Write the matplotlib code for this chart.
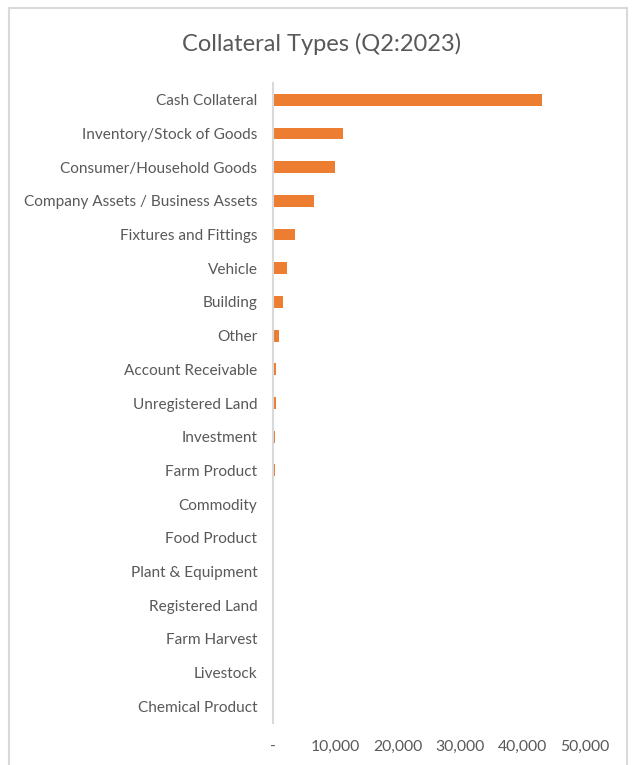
import matplotlib.pyplot as plt
from matplotlib.patches import Rectangle
from matplotlib.ticker import FuncFormatter

# collateral counts, Q2 2023
categories = [
    "Cash Collateral", "Inventory/Stock of Goods", "Consumer/Household Goods",
    "Company Assets / Business Assets", "Fixtures and Fittings", "Vehicle",
    "Building", "Other", "Account Receivable", "Unregistered Land",
    "Investment", "Farm Product", "Commodity", "Food Product",
    "Plant & Equipment", "Registered Land", "Farm Harvest", "Livestock",
    "Chemical Product",
]
values = [43150, 11270, 10030, 6670, 3620, 2340, 1600, 1010, 580, 570,
          320, 300, 40, 30, 20, 15, 10, 5, 3]
xticks = [0, 10000, 20000, 30000, 40000, 50000]

orange = "#ED7D31"
text_grey = "#595959"
line_grey = "#D9D9D9"

plt.rcParams['font.family'] = ['Lato', 'DejaVu Sans']

fig = plt.figure(figsize=(6.35, 7.65), dpi=100)
ax = fig.add_axes([0.4295, 0.0549, 0.4913, 0.8366])

pos = list(range(len(categories)))
ax.barh(pos, values, height=0.35, color=orange)
ax.set_ylim(len(categories) - 0.5, -0.5)
ax.set_xlim(0, 50000)

ax.set_yticks(pos)
ax.set_yticklabels(categories, fontsize=11.1, color=text_grey)
ax.set_xticks(xticks)
ax.xaxis.set_major_formatter(FuncFormatter(lambda v, p: "-" if v == 0 else f"{v:,.0f}"))
ax.tick_params(axis='x', labelsize=11.3, labelcolor=text_grey, length=0, pad=12)
ax.tick_params(axis='y', length=0, pad=11)

for s in ["top", "right", "bottom"]:
    ax.spines[s].set_visible(False)
ax.spines["left"].set_color(line_grey)
ax.spines["left"].set_linewidth(1.5)

fig.text(0.507, 0.943, "Collateral Types (Q2:2023)", ha="center", va="center",
         fontsize=17, color=text_grey)

# chart frame
fig.patches.append(Rectangle((9 / 635, -0.05), 618 / 635, 1 - 8 / 765 + 0.05,
                             transform=fig.transFigure, fill=False,
                             edgecolor=line_grey, linewidth=1.5))

fig.savefig("out.png", dpi=100)
